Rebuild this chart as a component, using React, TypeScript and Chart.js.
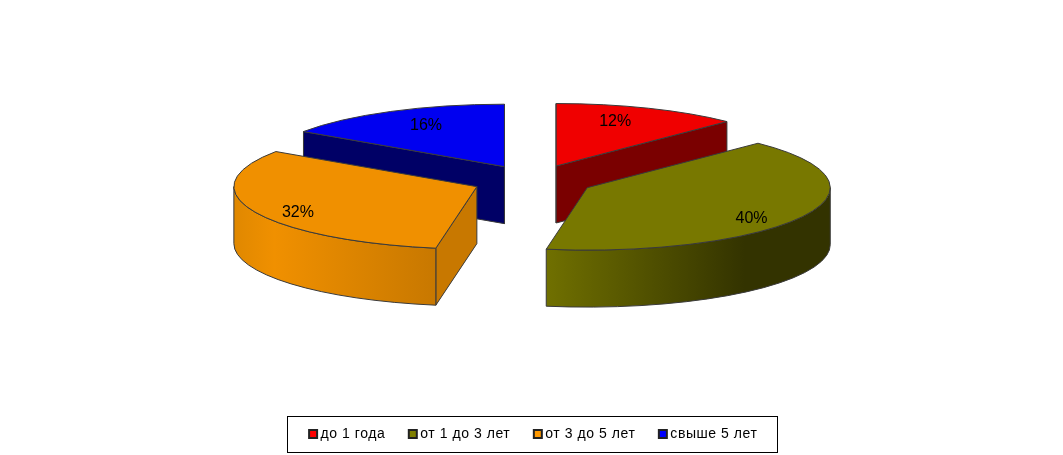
import React, { useEffect, useRef } from 'react';
import { Chart, ChartConfiguration, registerables } from 'chart.js';

Chart.register(...registerables);

const categories = ['до 1 года', 'от 1 до 3 лет', 'от 3 до 5 лет', 'свыше 5 лет'];
// the labels show them rounded
const shares = [12.4, 40.3, 31.8, 15.5];
const topColors = ['#f00000', '#787800', '#f09000', '#0000f0'];
const legendColors = ['#ff0000', '#808000', '#ff9900', '#0000ff'];
const cutColors = ['#7a0000', '#333300', '#c87800', '#000066'];
const wallStops: [number, string][][] = [
  [[0, '#7a0000'], [1, '#7a0000']],
  [[0, '#707000'], [0.7, '#333300'], [1, '#333300']],
  [[0, '#e08800'], [0.2, '#f09000'], [1, '#c87800']],
  [[0, '#000066'], [1, '#000066']],
];
// where each percentage sits, as a fraction of the ellipse radii from the slice tip
const labelReachX = [0.64, 0.76, 0.8, 0.69];
const labelReachY = [0.77, 1.09, 1.07, 0.75];

// fake 3D projection of the flat pie
const RADIUS_X = 243;
const TILT = 0.257;
const DEPTH = 57;
const EXPLODE = 61;
const CENTER_X = 533;
const CENTER_Y = 180.5;

const pie3d = {
  id: 'pie3d',
  beforeLayout(chart: any) {
    chart.ctx.letterSpacing = '0.55px';
  },
  beforeDraw(chart: any) {
    chart.ctx.letterSpacing = '0.55px';
  },
  beforeDatasetsDraw(chart: any) {
    const ctx: CanvasRenderingContext2D = chart.ctx;
    const arcs: any[] = chart.getDatasetMeta(0).data;
    const rx = RADIUS_X;
    const ry = RADIUS_X * TILT;

    const slices = arcs.map((arc, i) => {
      const mid = (arc.startAngle + arc.endAngle) / 2;
      return {
        arc,
        i,
        ax: CENTER_X + Math.cos(mid) * EXPLODE,
        ay: CENTER_Y + Math.sin(mid) * EXPLODE * TILT,
      };
    });

    // back slices first
    slices.sort((a, b) => a.ay - b.ay);

    ctx.save();
    ctx.lineWidth = 1;
    ctx.strokeStyle = '#3a3a3a';
    ctx.lineJoin = 'round';

    const cutFace = (s: any, angle: number) => {
      const ex = s.ax + Math.cos(angle) * rx;
      const ey = s.ay + Math.sin(angle) * ry;
      ctx.beginPath();
      ctx.moveTo(s.ax, s.ay);
      ctx.lineTo(ex, ey);
      ctx.lineTo(ex, ey + DEPTH);
      ctx.lineTo(s.ax, s.ay + DEPTH);
      ctx.closePath();
      ctx.fillStyle = cutColors[s.i];
      ctx.fill();
      ctx.stroke();
    };

    for (const s of slices) {
      const { arc, i, ax, ay } = s;
      const start = arc.startAngle;
      const end = arc.endAngle;

      // flat cut faces that turn towards the viewer
      if (Math.cos(start) < 1e-6) cutFace(s, start);
      if (Math.cos(end) > -1e-6) cutFace(s, end);

      // outer wall, only the front half of the ellipse
      const lo = Math.max(start, 0);
      const hi = Math.min(end, Math.PI);
      if (hi > lo) {
        const x0 = ax + Math.cos(hi) * rx;
        const x1 = ax + Math.cos(lo) * rx;
        const left = Math.min(x0, x1);
        const right = Math.max(x0, x1, lo === 0 ? ax + rx : x1);
        const grad = ctx.createLinearGradient(left, 0, right, 0);
        wallStops[i].forEach(([at, color]) => grad.addColorStop(at, color));
        ctx.beginPath();
        ctx.ellipse(ax, ay, rx, ry, 0, lo, hi);
        ctx.ellipse(ax, ay + DEPTH, rx, ry, 0, hi, lo, true);
        ctx.closePath();
        ctx.fillStyle = grad;
        ctx.fill();
        ctx.stroke();
      }

      // the library's own arc, squashed into place
      const k = RADIUS_X / arc.outerRadius;
      ctx.save();
      ctx.translate(ax, ay);
      ctx.scale(k, k * TILT);
      ctx.translate(-arc.x, -arc.y);
      arc.draw(ctx);
      ctx.restore();

      ctx.beginPath();
      ctx.ellipse(ax, ay, rx, ry, 0, start, end);
      ctx.lineTo(ax, ay);
      ctx.closePath();
      ctx.stroke();
    }

    // percentages
    ctx.letterSpacing = '0px';
    ctx.fillStyle = '#000000';
    ctx.font = '16px "Liberation Sans"';
    ctx.textAlign = 'center';
    ctx.textBaseline = 'middle';
    for (const s of slices) {
      const { arc, i, ax, ay } = s;
      const mid = (arc.startAngle + arc.endAngle) / 2;
      const x = ax + Math.cos(mid) * rx * labelReachX[i];
      const y = ay + Math.sin(mid) * ry * labelReachY[i];
      ctx.fillText(`${Math.round(shares[i])}%`, x, y);
    }
    ctx.restore();
    return false;
  },
  afterDraw(chart: any) {
    // frame round the legend
    const boxes = chart.legend.legendHitBoxes;
    const ctx: CanvasRenderingContext2D = chart.ctx;
    const last = boxes[boxes.length - 1];
    ctx.save();
    ctx.strokeStyle = '#000000';
    ctx.lineWidth = 1;
    const left = boxes[0].left - 26;
    const right = last.left + last.width + 19;
    const top = boxes[0].top - 11;
    const bottom = boxes[0].top + boxes[0].height + 11;
    ctx.strokeRect(Math.round(left) + 0.5, Math.round(top) + 0.5, Math.round(right - left), Math.round(bottom - top));
    ctx.restore();
  },
};

const App: React.FC = () => {
  const chartRef = useRef<HTMLCanvasElement>(null);

  useEffect(() => {
    if (!chartRef.current) return;

    const config: ChartConfiguration = {
      type: 'pie',
      data: {
        labels: categories,
        datasets: [{
          data: shares,
          backgroundColor: topColors,
          borderWidth: 0,
        }],
      },
      options: {
        responsive: false,
        animation: false,
        layout: { padding: { left: 7, bottom: 4 } },
        plugins: {
          tooltip: { enabled: false },
          legend: {
            display: true,
            position: 'bottom',
            labels: {
              color: '#000000',
              font: { family: '"Liberation Sans"', size: 14 },
              boxWidth: 1,
              boxHeight: 8,
              padding: 27,
              usePointStyle: true,
              generateLabels: () => categories.map((text, i) => ({
                text,
                fillStyle: legendColors[i],
                strokeStyle: '#222222',
                lineWidth: 2,
                pointStyle: 'rect',
                hidden: false,
                index: i,
              })),
            },
          },
        },
      },
      plugins: [pie3d],
    };

    const chart = new Chart(chartRef.current, config);

    return () => {
      chart.destroy();
    };
  }, []);

  return (
    <div style={{ position: 'absolute', left: 0, top: 0, width: 1063, height: 455, background: '#ffffff' }}>
      <canvas ref={chartRef} width={1063} height={455} />
    </div>
  );
};

export default App;
